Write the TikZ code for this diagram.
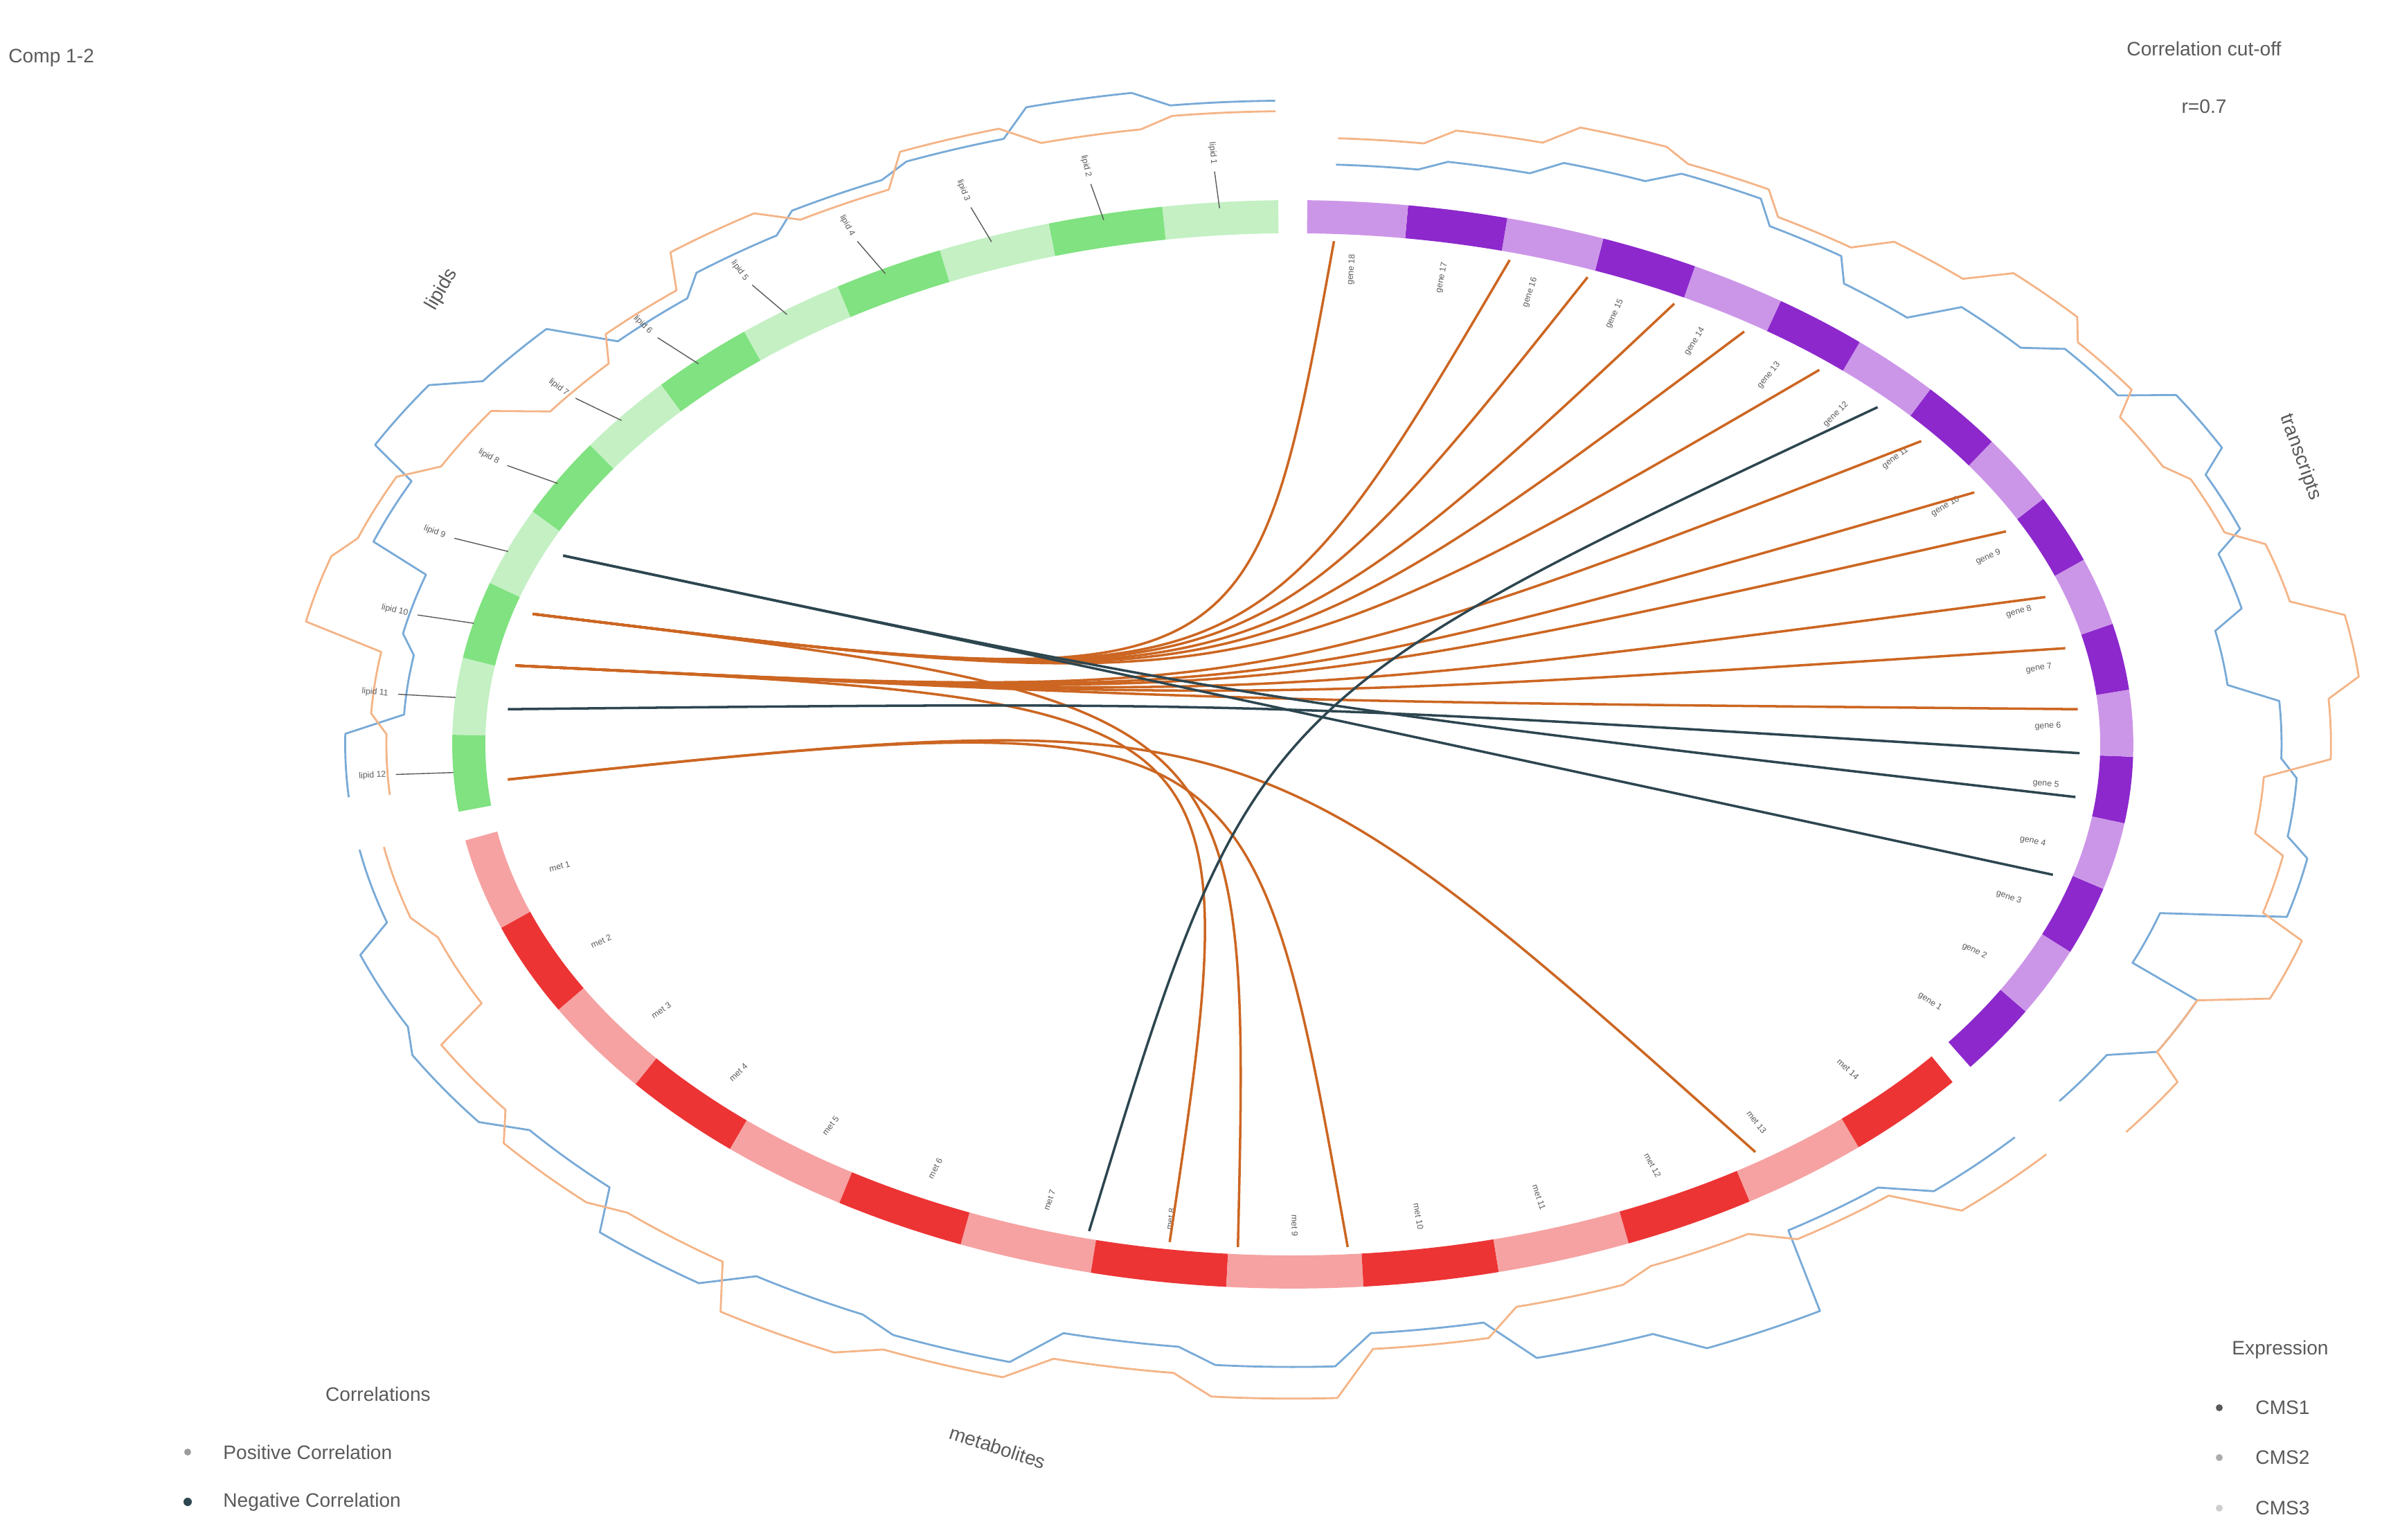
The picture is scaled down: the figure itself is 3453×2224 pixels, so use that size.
\documentclass[tikz,border=0pt]{standalone}
\usepackage{fontspec}
\setmainfont{Liberation Sans}
\definecolor{gL}{RGB}{196,240,196}\definecolor{gD}{RGB}{128,226,128}
\definecolor{rL}{RGB}{246,162,162}\definecolor{rD}{RGB}{236,52,52}
\definecolor{pL}{RGB}{204,150,232}\definecolor{pD}{RGB}{140,40,204}
\definecolor{poscol}{RGB}{204,102,34}\definecolor{negcol}{RGB}{45,70,80}
\definecolor{trb}{RGB}{120,170,215}\definecolor{tro}{RGB}{244,180,135}
\definecolor{lab}{RGB}{90,90,90}
\def\cx{1867}\def\cy{1149}\def\rx{1190}\def\ry{762}
\newcommand\ringsec[5]{%
  \foreach \i in {1,...,#3}{%
    \pgfmathsetmacro\a{#1+(\i-1)*(#2-#1)/#3}%
    \pgfmathsetmacro\b{#1+\i*(#2-#1)/#3}%
    \ifodd\i\def\col{#4}\else\def\col{#5}\fi
    \draw[line width=13.6pt,color=\col] ({\cx+\rx*cos(\a)},{\cy+\ry*sin(\a)}) arc[start angle=\a,end angle=\b,x radius=\rx,y radius=\ry];
  }}
\newcommand\track[6]{%
  \draw[#4,line width=0.8pt,line join=round] ({\cx+#5*\rx*cos(#1)},{\cy+#5*\ry*sin(#1)})
  \foreach \r [count=\i] in {#6}{
    \pgfextra{\pgfmathsetmacro\a{#1+(\i-1)*(#2-#1)/#3}\pgfmathsetmacro\b{#1+(\i-0.25)*(#2-#1)/#3}}
    -- ({\cx+\r*\rx*cos(\a)},{\cy+\r*\ry*sin(\a)})
    arc[start angle=\a,end angle=\b,x radius=\r*\rx,y radius=\r*\ry]
  };}
\newcommand\chord[3]{%
  \coordinate (c#1) at ({\cx+0.955*\rx*cos(#1)},{\cy+0.955*\ry*sin(#1)});
  \coordinate (c#2) at ({\cx+0.955*\rx*cos(#2)},{\cy+0.955*\ry*sin(#2)});
  \draw[#3,line width=1pt] (c#1) .. controls (hub) and (hub) .. (c#2);}
\tikzset{lbl/.style={font=\fontsize{3.5}{4}\selectfont,text=lab,inner sep=0.5pt},
  ttl/.style={font=\fontsize{8}{10}\selectfont,text=lab}}
\begin{document}
\begin{tikzpicture}[x=0.01cm,y=0.01cm]
\useasboundingbox (0,0) rectangle (3453,2224);
% tracks
\track{91}{187}{12}{trb}{1.22}{1.22,1.25,1.2,1.18,1.15,1.12,1.2,1.25,1.18,1.1,1.08,1.15}
\track{91}{187}{12}{tro}{1.2}{1.2,1.18,1.22,1.16,1.2,1.14,1.1,1.16,1.2,1.22,1.12,1.1}
\track{190}{322}{14}{trb}{1.15}{1.15,1.2,1.22,1.18,1.25,1.2,1.22,1.15,1.18,1.12,1.2,1.25,1.1,1.15}
\track{190}{322}{14}{tro}{1.12}{1.12,1.1,1.18,1.22,1.2,1.28,1.25,1.2,1.24,1.15,1.1,1.08,1.12,1.2}
\track{324}{449}{18}{trb}{1.15}{1.15,1.2,1.1,1.25,1.22,1.2,1.14,1.18,1.22,1.26,1.2,1.16,1.1,1.14,1.18,1.15,1.12,1.1}
\track{324}{449}{18}{tro}{1.25}{1.25,1.2,1.28,1.22,1.18,1.26,1.3,1.24,1.2,1.18,1.22,1.25,1.2,1.16,1.2,1.22,1.18,1.15}
% ring
\ringsec{91}{187}{12}{gL}{gD}
\ringsec{190}{322}{14}{rL}{rD}
\ringsec{324}{449}{18}{pD}{pL}
% labels
\foreach \k in {1,...,12}{
  \pgfmathsetmacro\t{91+(\k-0.5)*8}
  \draw[lab,line width=0.4pt] ({\cx+1.02*\rx*cos(\t)},{\cy+1.02*\ry*sin(\t)}) -- ({\cx+1.09*\rx*cos(\t)},{\cy+1.09*\ry*sin(\t)});
  \node[lbl,anchor=east,rotate=\t+180] (gl\k) at ({\cx+1.1*\rx*cos(\t)},{\cy+1.1*\ry*sin(\t)}) {lipid \k};}
\foreach \k in {1,...,14}{
  \pgfmathsetmacro\t{190+(\k-0.5)*132/14}
  \pgfmathparse{\t<270?1:0}
  \ifnum\pgfmathresult=1
   \node[lbl,anchor=west,rotate=\t+180] (rl\k) at ({\cx+0.935*\rx*cos(\t)},{\cy+0.935*\ry*sin(\t)}) {met \k};
  \else
   \node[lbl,anchor=east,rotate=\t] (rl\k) at ({\cx+0.935*\rx*cos(\t)},{\cy+0.935*\ry*sin(\t)}) {met \k};
  \fi}
\foreach \k in {1,...,18}{
  \pgfmathsetmacro\t{324+(\k-0.5)*125/18}
  \node[lbl,anchor=east,rotate=\t] (pl\k) at ({\cx+0.935*\rx*cos(\t)},{\cy+0.935*\ry*sin(\t)}) {gene \k};}
% chords
\coordinate (hub) at (1806,1211);
\foreach \e in {87,74,68,61,55,48,266}{\chord{165}{\e}{poscol}}
\foreach \e in {37,30,25,17,11,4,261}{\chord{171}{\e}{poscol}}
\foreach \e in {306,274}{\chord{184}{\e}{poscol}}
\chord{158}{345}{negcol}
\chord{158}{354}{negcol}
\chord{176}{359}{negcol}
\chord{42}{255}{negcol}
% titles
\node[ttl,anchor=west] (comp) at (0,2140) {Comp 1-2};
\node[ttl] (cut) at (3183,2154) {Correlation cut-off};
\node[ttl] (rv) at (3183,2070) {r=0.7};
\node[ttl,rotate=60] (bl) at (638,1806) {lipids};
\node[ttl,rotate=-70] (br) at (3322,1564) {transcripts};
\node[ttl,rotate=-18] (bb) at (1441,134) {metabolites};
% legends
\node[ttl] (lc) at (546,211) {Correlations};
\fill[lab!60] (271,127) circle (5); \node[ttl,anchor=west] (lp) at (310,127) {Positive Correlation};
\fill[negcol] (271,55) circle (6); \node[ttl,anchor=west] (ln) at (310,55) {Negative Correlation};
\node[ttl] (le) at (3293,275) {Expression};
\fill[lab] (3205,191) circle (5); \node[ttl,anchor=west] (e1) at (3245,191) {CMS1};
\fill[lab!50] (3205,119) circle (5); \node[ttl,anchor=west] (e2) at (3245,119) {CMS2};
\fill[lab!30] (3205,46) circle (5); \node[ttl,anchor=west] (e3) at (3245,46) {CMS3};
\end{tikzpicture}
\end{document}
